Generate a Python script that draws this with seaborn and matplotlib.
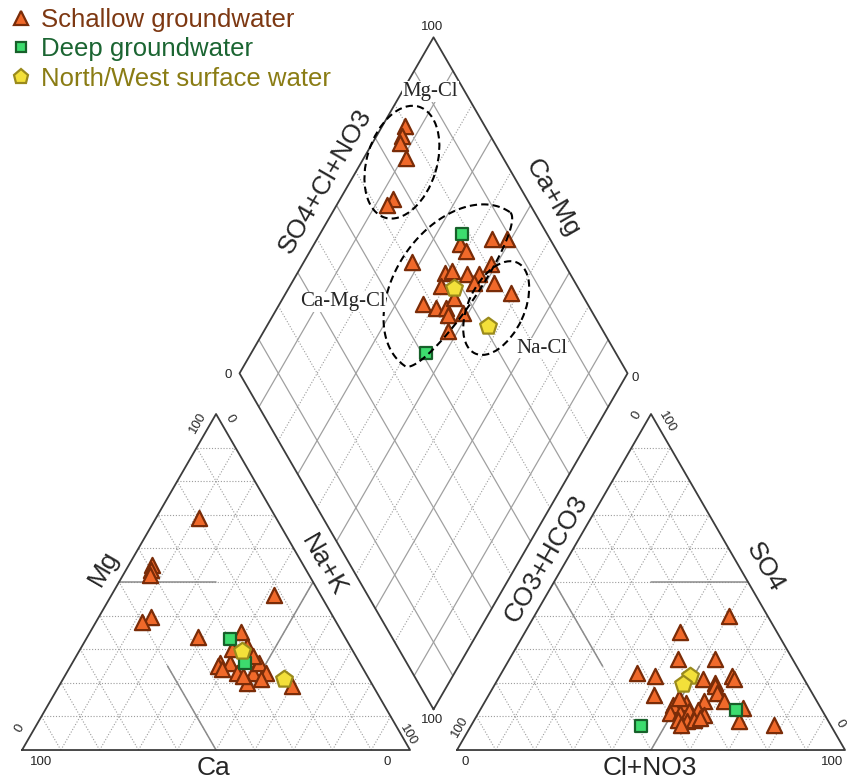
import numpy as np
import pandas as pd
import matplotlib.pyplot as plt
import seaborn as sns
from matplotlib.patches import Ellipse, Polygon
from matplotlib.lines import Line2D

# ---- data (% of meq/l) ----
# cation triangle: Ca and Mg (Na+K is the rest)
shallow_ca = [20, 39, 40, 41, 12, 47, 50, 38, 26, 36, 37, 33.5, 33, 29, 26, 25.5,
              32, 31, 26.5, 26.5, 21, 36.5, 32, 28]
shallow_mg = [69, 55, 53.5, 52, 46, 39.5, 38, 33.5, 35, 26, 25, 26, 23, 23, 26, 23,
              20, 30, 31, 28, 19, 24, 22, 21]
deep_ca = [30, 29.5]
deep_mg = [33, 26]
surface_ca = [28.5, 22]
surface_mg = [29.5, 21]

# anion triangle: Cl+NO3 and SO4 (CO3+HCO3 is the rest)
shallow_cl = [50, 40, 43.5, 53, 35, 40, 42.5, 53, 60, 61, 56.5, 57, 58.5, 61.5, 56.5,
              67.5, 68.5, 78, 49, 52, 49.5, 52, 54, 56, 58.5, 52.5, 55, 56.5, 58, 54, 49.5]
shallow_so4 = [40, 35, 27, 27, 23, 22, 16.5, 21, 22, 21, 20, 19, 17, 14.5, 14.5,
               12.5, 8.5, 7.5, 13.5, 14, 11, 11, 11.5, 12, 10.5, 9, 8.5, 9, 9.5, 7.5, 15.5]
deep_cl = [66, 44]
deep_so4 = [12, 7]
surface_cl = [49, 48.5]
surface_so4 = [22, 19.5]

# diamond: SO4+Cl+NO3 and Na+K
shallow_s = [79.5, 77, 75.5, 75, 65.5, 63, 85, 89, 76, 76.5, 61, 81, 68, 70, 73.5, 76.5,
             65, 74, 79, 82, 57.5, 60.5, 63, 62.5, 66.5, 60, 66.5]
shallow_na = [6, 6.5, 7, 11, 13.5, 13, 45, 49, 37.5, 40, 28, 48.5, 38, 39.5, 44, 47,
              39, 47, 52, 58, 37, 41, 43.5, 45, 48.5, 47.5, 44]
deep_s = [78, 51]
deep_na = [36.5, 45]
surface_s = [68, 71]
surface_na = [42.5, 57]

group_labels = ["Schallow groundwater", "Deep groundwater", "North/West surface water"]
text_colors = ["#7d3812", "#1b6532", "#8a7c14"]

sns.set_theme(style="white")
plt.rcParams['font.family'] = ['Liberation Sans', 'DejaVu Sans']

GAP = 12.1
H = np.sqrt(3) / 2


def cation_xy(ca, mg):
    ca, mg = np.asarray(ca, float), np.asarray(mg, float)
    na = 100 - ca - mg
    return na + 0.5 * mg, H * mg


def anion_xy(cl, so4):
    cl, so4 = np.asarray(cl, float), np.asarray(so4, float)
    return 100 + GAP + cl + 0.5 * so4, H * so4


def diamond_xy(s, na):
    s, na = np.asarray(s, float), np.asarray(na, float)
    x = 50 + GAP / 2 + 0.5 * na + 0.5 * s
    y = H * GAP + H * (100 - na) + H * s
    return x, y


fig = plt.figure(figsize=(8.47, 7.79), dpi=100)
ax = fig.add_axes([0, 0, 1, 1])
ax.set_xlim(-5.67, 212.6)
ax.set_ylim(-7.47, 193.3)
ax.set_aspect('equal')
ax.axis('off')

dotted = dict(color='#9c9c9c', lw=0.8, ls=(0, (1, 1.6)), zorder=1)
solid = dict(color='#a0a0a0', lw=0.9, zorder=1)
klass = dict(color='#8c8c8c', lw=1.1, zorder=1.5)
edge = dict(color='#3c3c3c', lw=1.3, zorder=2)


def seg(f, p, q, **kw):
    x1, y1 = f(*p)
    x2, y2 = f(*q)
    ax.plot([x1, x2], [y1, y2], **kw)


for t in range(10, 100, 10):
    # cation triangle grid
    seg(cation_xy, (100 - t, t), (0, t), **dotted)
    seg(cation_xy, (t, 0), (t, 100 - t), **dotted)
    seg(cation_xy, (100 - t, 0), (0, 100 - t), **dotted)
    # anion triangle grid
    seg(anion_xy, (0, t), (100 - t, t), **dotted)
    seg(anion_xy, (t, 0), (t, 100 - t), **dotted)
    seg(anion_xy, (100 - t, 0), (0, 100 - t), **dotted)
    # diamond grid
    st = solid if t % 20 == 10 else dotted
    seg(diamond_xy, (t, 0), (t, 100), **st)
    seg(diamond_xy, (0, t), (100, t), **st)

# facies subdivision lines
seg(cation_xy, (50, 50), (25, 50), **klass)
seg(cation_xy, (50, 0), (50, 25), **klass)
seg(cation_xy, (0, 50), (25, 25), **klass)
seg(anion_xy, (50, 50), (25, 50), **klass)
seg(anion_xy, (50, 0), (50, 25), **klass)
seg(anion_xy, (0, 50), (25, 25), **klass)

# outlines
for f, corners in [(cation_xy, [(100, 0), (0, 0), (0, 100), (100, 0)]),
                   (anion_xy, [(0, 0), (100, 0), (0, 100), (0, 0)]),
                   (diamond_xy, [(0, 100), (0, 0), (100, 0), (100, 100), (0, 100)])]:
    xs, ys = zip(*[f(*c) for c in corners])
    ax.plot(xs, ys, **edge)

# points
styles = [dict(marker='^', s=120, color='#f0692a', edgecolor='#7a2c08', linewidth=1.6),
          dict(marker='s', s=78, color='#3ddc6e', edgecolor='#17602a', linewidth=1.6),
          dict(marker='p', s=160, color='#f3e03a', edgecolor='#9a8a1c', linewidth=1.6)]

panels = [
    (cation_xy, [(shallow_ca, shallow_mg), (deep_ca, deep_mg), (surface_ca, surface_mg)]),
    (anion_xy, [(shallow_cl, shallow_so4), (deep_cl, deep_so4), (surface_cl, surface_so4)]),
    (diamond_xy, [(shallow_s, shallow_na), (deep_s, deep_na), (surface_s, surface_na)]),
]
for f, groups in panels:
    for (a, b), st in zip(groups, styles):
        x, y = f(a, b)
        sns.scatterplot(x=x, y=y, ax=ax, zorder=5, legend=False, **st)

# hand-drawn groupings
ell = dict(fill=False, ec='black', lw=1.5, ls=(0, (3.5, 2)), zorder=6)
ax.add_patch(Ellipse((97.9, 151.5), 29.9, 18.0, angle=73, **ell))
ax.add_patch(Ellipse((122.2, 113.9), 25.8, 14.4, angle=65, **ell))

# lopsided outline around the Ca-Mg-Cl group
cx, cy, half_len, bulge_left, bulge_right, ang = 112.2, 118.8, 24.0, 16.2, 4.9, np.radians(55.7)
tt = np.linspace(0, 2 * np.pi, 200)
along = half_len * np.cos(tt)
across = np.where(np.sin(tt) >= 0, bulge_left, bulge_right) * np.sin(tt)
ex = cx + along * np.cos(ang) - across * np.sin(ang)
ey = cy + along * np.sin(ang) + across * np.cos(ang)
ax.add_patch(Polygon(np.column_stack([ex, ey]), closed=True, **ell))

serif = dict(family=['Liberation Serif', 'DejaVu Serif'], fontsize=15, ha='center', va='center',
             zorder=7, bbox=dict(fc='white', ec='none', pad=0.5))
ax.text(105.2, 169.7, "Mg-Cl", **serif)
ax.text(82.7, 115.5, "Ca-Mg-Cl", **serif)
ax.text(133.9, 103.6, "Na-Cl", **serif)

# axis titles
big = dict(fontsize=19, ha='center', va='center', rotation_mode='anchor')
ax.text(20.95, 46.8, "Mg", rotation=60, **big)
ax.text(77.7, 47.7, "Na+K", rotation=-60, **big)
ax.text(49.3, -4.7, "Ca", **big)
ax.text(135.2, 49.2, "CO3+HCO3", rotation=60, **big)
ax.text(191.5, 47.2, "SO4", rotation=-60, **big)
ax.text(161.7, -4.7, "Cl+NO3", **big)
ax.text(78.1, 146.5, "SO4+Cl+NO3", rotation=60, **big)
ax.text(136.7, 142.2, "Ca+Mg", rotation=-60, **big)

# corner values
small = dict(fontsize=9.5, ha='center', va='center', rotation_mode='anchor')
for x, y, s, r in [(45.4, 84.2, "100", 60), (53.6, 85.5, "0", -60), (-0.5, 5.6, "0", 60),
                   (99.6, 3.9, "100", -60), (4.8, -3.0, "100", 0), (94.2, -3.0, "0", 0),
                   (158.4, 86.3, "0", 60), (166.2, 84.6, "100", -60), (112.9, 6.0, "100", 60),
                   (210.8, 6.7, "0", -60), (114.2, -3.0, "0", 0), (208.7, -3.0, "100", 0),
                   (105.7, 186.3, "100", 0), (53.1, 96.6, "0", 0), (158.0, 95.9, "0", 0),
                   (105.7, 7.7, "100", 0)]:
    ax.text(x, y, s, rotation=r, **small)

# legend
handles = [Line2D([], [], ls='none', marker=st['marker'], markersize=np.sqrt(st['s']) * 0.88,
                  markerfacecolor=st['color'], markeredgecolor=st['edgecolor'],
                  markeredgewidth=1.6) for st in styles]
ax.legend(handles, group_labels, loc='upper left', bbox_to_anchor=(0.0, 1.0), frameon=False,
          fontsize=18.5, labelcolor=text_colors, handlelength=1.0, handletextpad=0.3,
          labelspacing=0.22, borderaxespad=0.2, borderpad=0.1)

fig.savefig("out.png", dpi=100, facecolor='white')
